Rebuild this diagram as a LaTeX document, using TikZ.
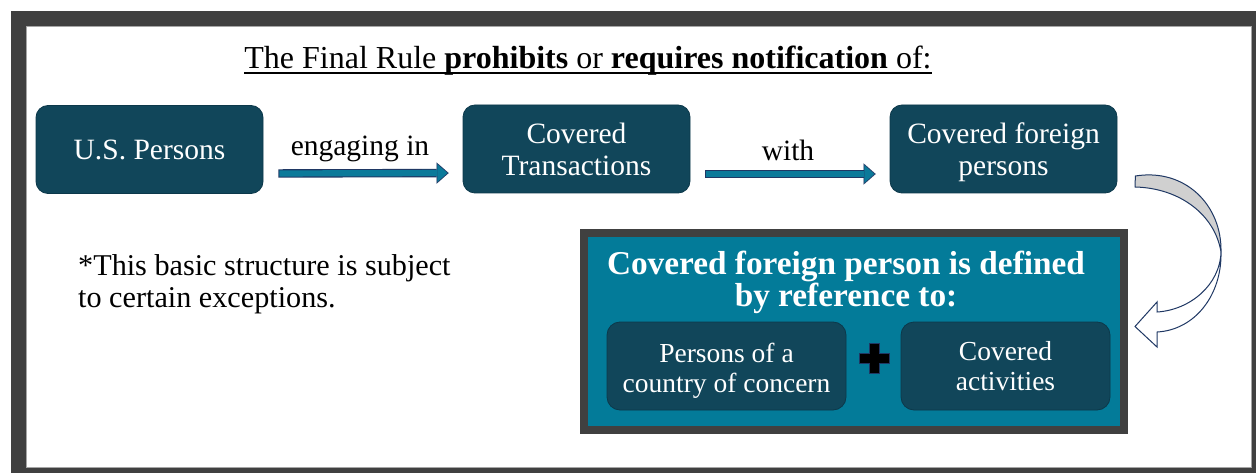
\documentclass[tikz,border=0pt]{standalone}
\usepackage{fontspec}
\setmainfont{Liberation Serif}
\usetikzlibrary{arrows.meta,calc}
\definecolor{boxteal}{HTML}{11465A}
\definecolor{boxedge}{HTML}{0C384A}
\definecolor{arrowteal}{HTML}{0B7A9A}
\definecolor{navy}{HTML}{1F3864}
\definecolor{panelteal}{HTML}{037B99}
\definecolor{framegray}{HTML}{404040}
\definecolor{edgegray}{HTML}{A6A6A6}
\definecolor{curvegray}{HTML}{D0D0D0}
\begin{document}
\begin{tikzpicture}[x=1pt,y=-1pt,
  mainbox/.style={draw=boxedge, line width=0.8pt, fill=boxteal, rounded corners=12pt,
    text=white, align=center, minimum width=227pt, minimum height=88pt, inner sep=0pt,
    font=\fontsize{29.5}{32}\selectfont},
  innerbox/.style={draw=boxedge, line width=0.8pt, fill=boxteal, rounded corners=13pt,
    text=white, align=center, minimum height=88pt, inner sep=0pt,
    font=\fontsize{27.5}{30.5}\selectfont},
  arrowout/.style={draw=navy, line width=8.4pt, shorten <=15pt, shorten >=14pt,
    -{Triangle[length=12pt,width=21pt,line width=0.01pt]}},
  arrowin/.style={draw=arrowteal, line width=6.2pt, shorten <=16pt, shorten >=15.3pt,
    -{Triangle[length=10pt,width=17.6pt,line width=0.01pt]}},
  lab/.style={anchor=base, inner sep=0pt, font=\fontsize{29.5}{32}\selectfont},
  headtext/.style={anchor=base, inner sep=0pt, text=white, font=\bfseries\fontsize{33.3}{34}\selectfont},
  curveshape/.style={draw=navy, line width=1pt, line join=miter}
]
\useasboundingbox (0,0) rectangle (1256,473);
\fill[white] (0,0) rectangle (1256,473);
% frame
\fill[framegray] (11,11) rectangle (1256,473);
\fill[white] (26,26) rectangle (1251,467);
\draw[edgegray, line width=0.8pt] (26,467) -- (26,26) -- (1251,26) -- (1251,467) -- cycle;

% title
\node[anchor=base, inner sep=0pt, font=\fontsize{32}{34}\selectfont] (title) at (588,69)
  {The Final Rule \textbf{prohibits} or \textbf{requires notification} of:};
\draw[line width=1.8pt] ([yshift=-4pt]title.base west) -- ([yshift=-4pt]title.base east);

% main boxes
\node[mainbox] (b1) at (149.5,149.5) {U.S. Persons};
\node[mainbox] (b2) at (576.5,149) {Covered\\Transactions};
\node[mainbox] (b3) at (1003.5,149) {\rule{0pt}{27pt}Covered foreign\\persons};

% arrows
\draw[arrowout] ([yshift=-24pt]b1.east) -- ([yshift=-24pt]b2.west);
\draw[arrowin]  ([yshift=-24pt]b1.east) -- ([yshift=-24pt]b2.west);
\draw[arrowout] ([yshift=-25pt]b2.east) -- ([yshift=-25pt]b3.west);
\draw[arrowin]  ([yshift=-25pt]b2.east) -- ([yshift=-25pt]b3.west);
\node[lab] (l1) at (360,156) {engaging in};
\node[lab] (l2) at (788,161) {with};

% footnote
\node[anchor=base west, inner sep=0pt, align=left, font=\fontsize{30.2}{32}\selectfont] (note) at (78,307)
  {*This basic structure is subject\\to certain exceptions.};

% panel
\node[draw=framegray, line width=8pt, fill=panelteal, minimum width=540pt, minimum height=197pt, inner sep=0pt] (panel) at (854,331.5) {};
\node[headtext] (h1) at (846,274) {Covered foreign person is defined};
\node[headtext] (h2) at (846,306) {by reference to:};
\node[innerbox, minimum width=239pt] (c1) at (726.5,366) {\rule{0pt}{29pt}Persons of a\\country of concern};
\node[innerbox, minimum width=209pt] (c2) at (1005.5,366) {Covered\\activities};
\fill[black, draw=navy, line width=0.6pt]
  (869,343) -- (879,343) -- (879,353) -- (889,353) -- (889,363) -- (879,363) -- (879,373)
  -- (869,373) -- (869,363) -- (859,363) -- (859,353) -- (869,353) -- cycle;

% curved arrow from b3 to panel
\coordinate (cs) at ([xshift=18pt,yshift=-27pt]b3.east);
\coordinate (ce) at ([xshift=7pt,yshift=5pt]panel.east);
\draw[curveshape, fill=white]
  (1221,252) .. controls (1222,295) and (1195,330) .. (1157,332)
  -- (1157,347) -- (ce) -- (1157,302) -- (1157,312)
  .. controls (1190,310) and (1220,285) .. (1221,252);
\draw[curveshape, fill=curvegray]
  (cs) .. controls (1185,168) and (1222,205) .. (1221,252)
  .. controls (1215,215) and (1180,188) .. (1135,187) -- cycle;
\end{tikzpicture}
\end{document}
